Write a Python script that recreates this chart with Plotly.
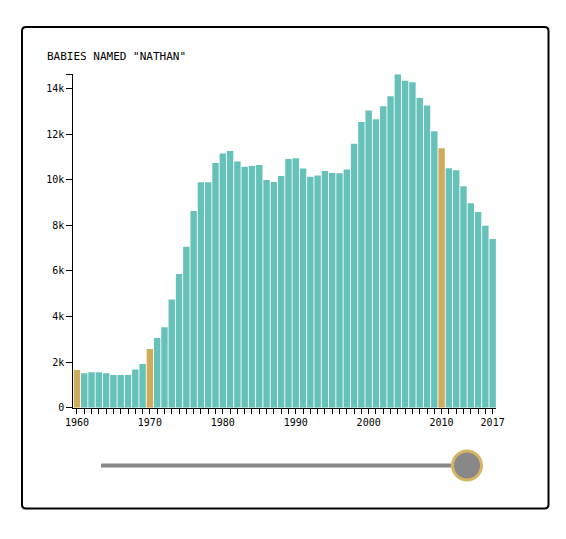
import plotly.graph_objects as go

W, H = 566, 539

years = list(range(1960, 2018))
babies = [1650, 1510, 1560, 1560, 1510, 1430, 1430, 1430, 1680, 1920,
          2570, 3060, 3530, 4750, 5860, 7060, 8630, 9890, 9890, 10730,
          11150, 11260, 10800, 10570, 10600, 10640, 9990, 9900, 10160, 10910,
          10940, 10490, 10130, 10180, 10380, 10290, 10280, 10440, 11580, 12530,
          13030, 12650, 13220, 13660, 14620, 14340, 14270, 13580, 13250, 12120,
          11380, 10500, 10410, 9710, 8960, 8580, 7980, 7400]
highlight_years = [1960, 1970, 2010]
label_years = [1960, 1970, 1980, 1990, 2000, 2010, 2017]
y_ticks = [0, 2000, 4000, 6000, 8000, 10000, 12000, 14000]
y_labels = ['0', '2k', '4k', '6k', '8k', '10k', '12k', '14k']

teal = '#66c2b9'
gold = '#cfab5a'
colors = [gold if y in highlight_years else teal for y in years]

def px(x):
    return x / W

def py(y):
    return 1 - y / H

fig = go.Figure()
fig.add_trace(go.Bar(x=years, y=babies, marker_color=colors,
                     marker_line_width=0, hoverinfo='x+y'))

ymax = max(babies)
fig.update_layout(
    width=W, height=H,
    margin=dict(l=0, r=0, t=0, b=0, pad=0),
    paper_bgcolor='white', plot_bgcolor='white',
    bargap=0.12,
    showlegend=False,
    font=dict(family='DejaVu Sans Mono', size=10, color='black'),
    xaxis=dict(
        domain=[px(73.3), px(496.3)],
        range=[1959.5, 2017.5],
        tickvals=years,
        ticktext=[str(y) if y in label_years else '' for y in years],
        ticks='outside', ticklen=5, tickwidth=1, tickcolor='black',
        showline=True, linecolor='black', linewidth=1,
        showgrid=False, zeroline=False, fixedrange=True, automargin=False,
    ),
    yaxis=dict(
        domain=[py(407.7), py(74.3)],
        range=[0, ymax],
        tickvals=y_ticks + [ymax],
        ticktext=y_labels + [''],
        ticks='outside', ticklen=6, tickwidth=1, tickcolor='black',
        showline=True, linecolor='black', linewidth=1,
        showgrid=False, zeroline=False, fixedrange=True, automargin=False,
    ),
)

# chart title
fig.add_annotation(text='BABIES NAMED "NATHAN"', xref='paper', yref='paper',
                   x=px(45), y=py(57), xanchor='left', yanchor='middle',
                   showarrow=False, font=dict(size=11, family='DejaVu Sans Mono'))

# card border with rounded corners
x0, x1, y0, y1, r = px(22), px(548.5), py(27), py(508.5), 4
rx, ry = r / W, r / H
card = (f'M {x0+rx},{y0} L {x1-rx},{y0} Q {x1},{y0} {x1},{y0-ry} '
        f'L {x1},{y1+ry} Q {x1},{y1} {x1-rx},{y1} '
        f'L {x0+rx},{y1} Q {x0},{y1} {x0},{y1+ry} '
        f'L {x0},{y0-ry} Q {x0},{y0} {x0+rx},{y0} Z')
fig.add_shape(type='path', path=card, xref='paper', yref='paper',
              line=dict(color='black', width=2), layer='above')

# slider track and knob
fig.add_shape(type='line', xref='paper', yref='paper',
              x0=px(101), x1=px(466), y0=py(465.5), y1=py(465.5),
              line=dict(color='#888888', width=4))
fig.add_shape(type='circle', xref='paper', yref='paper',
              x0=px(452.5), x1=px(481.5), y0=py(451), y1=py(480),
              fillcolor='#888888', line=dict(color='#d6b562', width=3))

fig.write_html('out.html', config={'displayModeBar': False},
               post_script="document.body.style.margin='0';")
